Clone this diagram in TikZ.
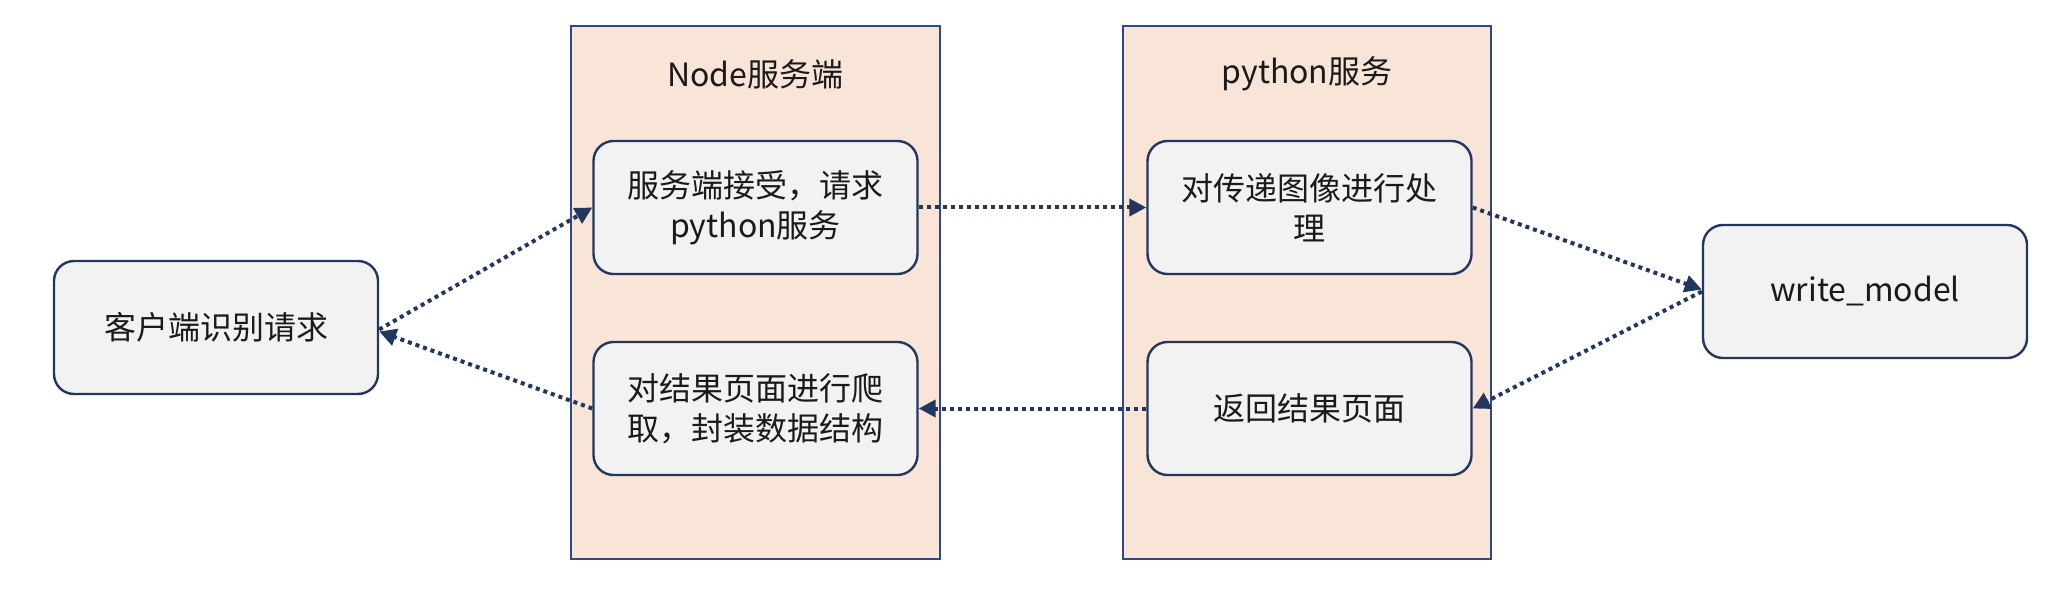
\documentclass[tikz,border=0pt]{standalone}
\usepackage{fontspec}
\setmainfont{Noto Sans CJK SC}
\usetikzlibrary{arrows.meta}
\definecolor{navy}{HTML}{23375E}
\definecolor{contblue}{HTML}{2E4A86}
\definecolor{peach}{HTML}{F8E5D8}
\definecolor{boxfill}{HTML}{F2F2F2}
\definecolor{txt}{HTML}{1A1A1A}
\tikzset{
  container/.style={draw=contblue, fill=peach, line width=1pt},
  procbox/.style={draw=navy, fill=boxfill, line width=1.2pt, rounded corners=10pt,
    minimum width=162pt, minimum height=66.5pt, inner sep=0pt, align=center,
    text=txt, font=\fontsize{16pt}{20pt}\selectfont},
  title/.style={text=txt, font=\fontsize{16pt}{20pt}\selectfont, inner sep=0pt},
  flow/.style={draw=navy, line width=2pt, dash pattern=on 2pt off 2pt,
    -{Triangle[length=8.5pt,width=8.5pt]}}
}
\begin{document}
\begin{tikzpicture}[x=0.5pt,y=-0.5pt]
\useasboundingbox (0,0) rectangle (2064,598);
\draw[container] (571,26) rectangle (940,559);
\draw[container] (1123,26) rectangle (1491,559);
\node[title] (t1) at (755.5,74) {Node服务端};
\node[title] (t2) at (1307,74) {python服务};
\node[procbox] (client) at (216,327.5) {客户端识别请求};
\node[procbox] (ntop) at (755.5,207.5) {服务端接受，请求\\python服务};
\node[procbox] (nbot) at (755.5,408.5) {对结果页面进行爬\\取，封装数据结构};
\node[procbox] (ptop) at (1309.5,207.5) {对传递图像进行处\\理};
\node[procbox] (pbot) at (1309.5,408.5) {返回结果页面};
\node[procbox] (wm) at (1865,291.5) {write\_model};
\draw[flow] ([yshift=-1pt]client.east) -- (ntop.west);
\draw[flow] (nbot.west) -- ([yshift=-2pt]client.east);
\draw[flow] (ntop.east) -- (ptop.west);
\draw[flow] (ptop.east) -- ([yshift=1pt]wm.west);
\draw[flow] (wm.west) -- (pbot.east);
\draw[flow] (pbot.west) -- (nbot.east);
\end{tikzpicture}
\end{document}
